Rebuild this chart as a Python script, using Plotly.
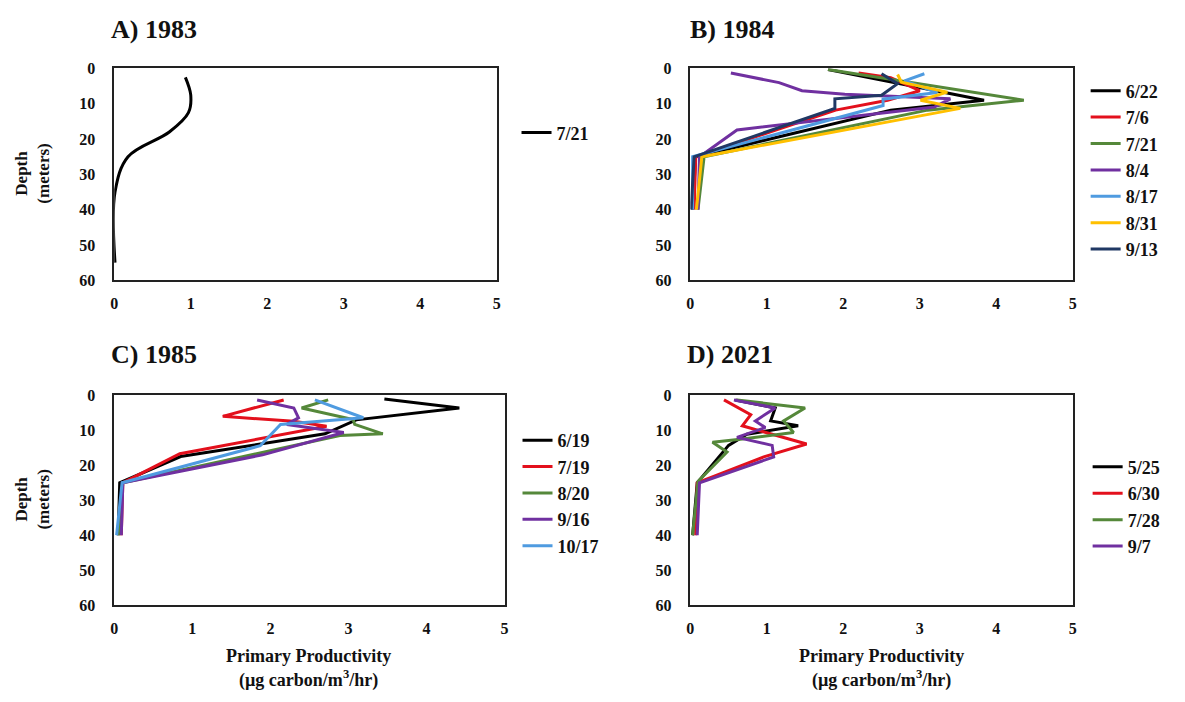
import plotly.graph_objects as go

W, H = 1185, 702
FONT = "'Liberation Serif', 'Times New Roman', Times, serif"

# ---------------- data ----------------
# Panel A (1983)
a_dates = ["7/21"]
a_721_depth = [2.5, 7.5, 12.5, 18, 25, 35, 55]
a_721_prod = [0.93, 1.0, 0.97, 0.72, 0.18, 0.01, 0.01]

# Panel B (1984)
b_dates = ["6/22", "7/6", "7/21", "8/4", "8/17", "8/31", "9/13"]
b_622_depth = [0.3, 9, 11.8, 25, 40]
b_622_prod = [1.8, 3.84, 2.62, 0.07, 0.03]
b_76_depth = [1.3, 2.6, 6.3, 9.0, 11.8, 25, 40]
b_76_prod = [2.2, 2.62, 3.0, 2.58, 1.9, 0.07, 0.05]
b_721_depth = [0.3, 9, 11.8, 25, 40]
b_721_prod = [1.8, 4.36, 3.1, 0.18, 0.1]
b_84_depth = [1.3, 4, 6.3, 7.3, 8.6, 10.9, 17.4, 25, 40]
b_84_prod = [0.53, 1.16, 1.46, 2.02, 3.4, 3.19, 0.61, 0.12, 0.1]
b_817_depth = [1.5, 3.5, 6.8, 8.7, 10.5, 25, 40]
b_817_prod = [3.06, 2.8, 3.23, 2.52, 2.52, 0.03, 0.03]
b_831_depth = [1.7, 3.9, 6.7, 9.0, 11.3, 25, 40]
b_831_prod = [2.71, 2.76, 3.36, 3.01, 3.53, 0.15, 0.08]
b_913_depth = [1.5, 4.3, 7.6, 8.6, 11.3, 25, 40]
b_913_prod = [2.5, 2.71, 2.5, 1.89, 1.89, 0.05, 0.01]

# Panel C (1985)
c_dates = ["6/19", "7/19", "8/20", "9/16", "10/17"]
c_619_depth = [1, 3.6, 7, 11, 17.5, 25, 40]
c_619_prod = [3.46, 4.42, 3.1, 2.7, 0.85, 0.07, 0.05]
c_719_depth = [1.3, 6, 7.4, 8.8, 16.7, 25, 40]
c_719_prod = [2.17, 1.39, 2.3, 2.72, 0.84, 0.11, 0.09]
c_820_depth = [1.3, 3.6, 6.9, 8.3, 11, 11.5, 25, 40]
c_820_prod = [2.74, 2.4, 3.06, 3.08, 3.44, 2.89, 0.11, 0.05]
c_916_depth = [1.3, 3.6, 6.4, 8.3, 10.6, 17, 25, 40]
c_916_prod = [1.83, 2.3, 2.36, 2.21, 2.94, 1.9, 0.11, 0.09]
c_1017_depth = [1.3, 6.4, 8.3, 14.4, 25, 40]
c_1017_prod = [2.57, 3.19, 2.13, 1.87, 0.1, 0.03]

# Panel D (2021)
d_dates = ["5/25", "6/30", "7/28", "9/7"]
d_525_depth = [1.3, 3.6, 7.3, 8.7, 11.1, 14.3, 25, 40]
d_525_prod = [0.59, 1.11, 1.05, 1.41, 0.74, 0.5, 0.09, 0.03]
d_630_depth = [1.3, 5.5, 8.7, 13.9, 17.6, 25, 40]
d_630_prod = [0.44, 0.79, 0.68, 1.52, 0.96, 0.09, 0.07]
d_728_depth = [1.3, 3.6, 7.3, 10.6, 12.5, 13.4, 16.2, 24.6, 40]
d_728_prod = [0.61, 1.5, 1.22, 1.35, 0.68, 0.29, 0.48, 0.1, 0.03]
d_97_depth = [1.3, 3.6, 7.3, 9.2, 12, 14.3, 17.6, 25, 40]
d_97_prod = [0.57, 1.11, 0.85, 0.98, 0.61, 1.07, 1.09, 0.12, 0.09]

depth_ticks = [0, 10, 20, 30, 40, 50, 60]
prod_ticks = [0, 1, 2, 3, 4, 5]

# ---------------- styling ----------------
BLACK = "#000000"
RED = "#e3101c"
GREEN = "#55883a"
PURPLE = "#7030a0"
LBLUE = "#4f9be0"
GOLD = "#ffc000"
DBLUE = "#203864"
TXT = "#111111"

fig = go.Figure()

def add(xname, yname, legend, name, xs, ys, color, shape="linear"):
    fig.add_trace(go.Scatter(
        x=xs, y=ys, mode="lines", name=name, xaxis=xname, yaxis=yname,
        legend=legend, line=dict(color=color, width=3, shape=shape),
        showlegend=True))

add("x", "y", "legend", a_dates[0], a_721_prod, a_721_depth, BLACK, "spline")

b_series = [(b_622_prod, b_622_depth, BLACK), (b_76_prod, b_76_depth, RED),
            (b_721_prod, b_721_depth, GREEN), (b_84_prod, b_84_depth, PURPLE),
            (b_817_prod, b_817_depth, LBLUE), (b_831_prod, b_831_depth, GOLD),
            (b_913_prod, b_913_depth, DBLUE)]
for name, (xs, ys, c) in zip(b_dates, b_series):
    add("x2", "y2", "legend2", name, xs, ys, c)

c_series = [(c_619_prod, c_619_depth, BLACK), (c_719_prod, c_719_depth, RED),
            (c_820_prod, c_820_depth, GREEN), (c_916_prod, c_916_depth, PURPLE),
            (c_1017_prod, c_1017_depth, LBLUE)]
for name, (xs, ys, c) in zip(c_dates, c_series):
    add("x3", "y3", "legend3", name, xs, ys, c)

d_series = [(d_525_prod, d_525_depth, BLACK), (d_630_prod, d_630_depth, RED),
            (d_728_prod, d_728_depth, GREEN), (d_97_prod, d_97_depth, PURPLE)]
for name, (xs, ys, c) in zip(d_dates, d_series):
    add("x4", "y4", "legend4", name, xs, ys, c)

def px_x(p):
    return p / W

def px_y(p):
    return 1 - p / H

tickfont = dict(family=FONT, size=16, color=TXT, weight="bold")

def xaxis(dom, anchor):
    return dict(domain=dom, anchor=anchor, range=[0, 5], tickvals=prod_ticks,
                showgrid=False, zeroline=False, showline=True, mirror=True,
                linecolor="#222222", linewidth=1.5, ticks="",
                tickfont=tickfont, ticklabelstandoff=8, fixedrange=True)

def yaxis(dom, anchor):
    return dict(domain=dom, anchor=anchor, range=[60, 0], tickvals=depth_ticks,
                showgrid=False, zeroline=False, showline=True, mirror=True,
                linecolor="#222222", linewidth=1.5, ticks="",
                tickfont=tickfont, ticklabelstandoff=14, fixedrange=True)

top_dom = [px_y(279), px_y(62)]
bot_dom = [px_y(612), px_y(397)]
A_x = [px_x(111), px_x(496)]
B_x = [px_x(691), px_x(1076)]
C_x = [px_x(111), px_x(504)]
D_x = [px_x(691), px_x(1076)]

legfont = dict(family=FONT, size=18, color=TXT, weight="bold")

def legend(xp, yp):
    return dict(x=px_x(xp), y=px_y(yp), xanchor="left", yanchor="middle",
                font=legfont, bgcolor="rgba(0,0,0,0)", borderwidth=0,
                tracegroupgap=0)

annotations = []
for txt, xp, yp in [("A) 1983", 106, 22), ("B) 1984", 689, 22),
                    ("C) 1985", 106, 355), ("D) 2021", 686, 355)]:
    annotations.append(dict(text="<b>%s</b>" % txt, x=px_x(xp), y=px_y(yp),
                            xref="paper", yref="paper", xanchor="left",
                            yanchor="middle", showarrow=False,
                            font=dict(family=FONT, size=26, color=TXT)))
for yp in [170, 504]:
    annotations.append(dict(text="<b>Depth</b><br><b>(meters)</b>",
                            x=px_x(29), y=px_y(yp), xref="paper", yref="paper",
                            xanchor="center", yanchor="middle", textangle=-90,
                            showarrow=False,
                            font=dict(family=FONT, size=17, color=TXT)))
for xp in [307, 883]:
    annotations.append(dict(text="<b>Primary Productivity</b>",
                            x=px_x(xp), y=px_y(664), xref="paper", yref="paper",
                            xanchor="center", yanchor="middle",
                            showarrow=False,
                            font=dict(family=FONT, size=18, color=TXT)))
    annotations.append(dict(text="<b>(µg carbon/m<sup>3</sup>/hr)</b>",
                            x=px_x(xp), y=px_y(688), xref="paper", yref="paper",
                            xanchor="center", yanchor="middle",
                            showarrow=False,
                            font=dict(family=FONT, size=18, color=TXT)))

fig.update_layout(
    width=W, height=H, margin=dict(l=0, r=0, t=0, b=0),
    paper_bgcolor="white", plot_bgcolor="white",
    font=dict(family=FONT, color=TXT),
    xaxis=xaxis(A_x, "y"), yaxis=yaxis(top_dom, "x"),
    xaxis2=xaxis(B_x, "y2"), yaxis2=yaxis(top_dom, "x2"),
    xaxis3=xaxis(C_x, "y3"), yaxis3=yaxis(bot_dom, "x3"),
    xaxis4=xaxis(D_x, "y4"), yaxis4=yaxis(bot_dom, "x4"),
    legend=legend(516, 128), legend2=legend(1089, 166),
    legend3=legend(517, 497), legend4=legend(1091, 511),
    annotations=annotations,
)

fig.write_html("out.html")
